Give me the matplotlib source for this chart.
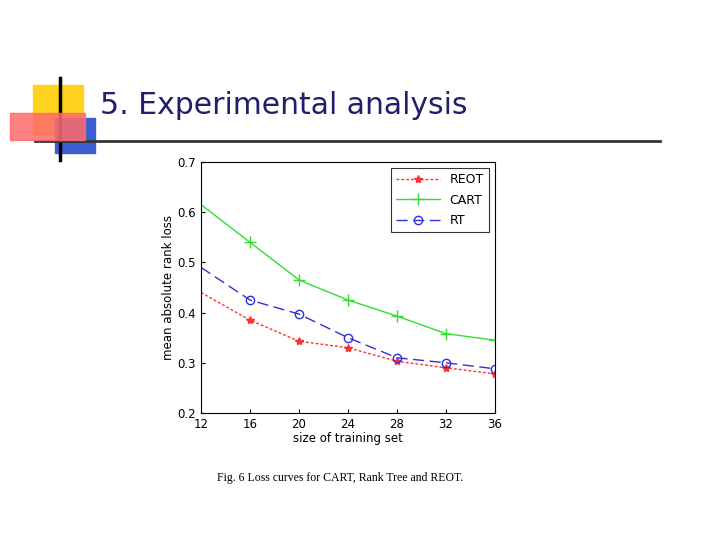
import matplotlib
matplotlib.use("Agg")
import matplotlib.pyplot as plt
from matplotlib.patches import Rectangle

x = [12, 16, 20, 24, 28, 32, 36]
reot = [0.44, 0.385, 0.343, 0.33, 0.303, 0.29, 0.278]
cart = [0.615, 0.54, 0.465, 0.425, 0.393, 0.358, 0.345]
rt = [0.49, 0.425, 0.397, 0.35, 0.31, 0.30, 0.288]

fig = plt.figure(figsize=(7.2, 5.4), dpi=100)
W, H = 720, 540
def R(x0, y0, w, h, **kw):
    fig.patches.append(Rectangle((x0 / W, 1 - (y0 + h) / H), w / W, h / H,
                                 transform=fig.transFigure, **kw))
R(33, 85, 50, 50, color="#ffd21f", zorder=1)
R(10, 113, 75, 27, color="#ff6b6b", alpha=0.85, zorder=2)
R(55, 118, 40, 35, color="#3a5fd0", zorder=1)
fig.add_artist(plt.Line2D([60 / W, 60 / W], [1 - 78 / H, 1 - 160 / H], color="black", lw=2.5))
fig.add_artist(plt.Line2D([35 / W, 660 / W], [1 - 141 / H, 1 - 141 / H], color="#333333", lw=2))
fig.text(100 / W, 1 - 105 / H, "5. Experimental analysis", fontsize=21.5, color="#1f1f6e",
         va="center", ha="left")
fig.text(340 / W, 1 - 478 / H, "Fig. 6 Loss curves for CART, Rank Tree and REOT.",
         fontsize=8.5, family="Liberation Serif", ha="center", va="center")

ax = fig.add_axes([201 / W, 1 - 413 / H, 294 / W, 251 / H])
me = list(range(1, 7))
ax.plot(x, reot, color="#ff3030", ls=(0, (2, 1.5)), lw=1, marker="*", ms=6, markevery=me, label="REOT")
ax.plot(x, cart, color="#33dd33", ls="-", lw=1, marker="+", ms=8, markevery=me, label="CART")
ax.plot(x, rt, color="#3030dd", ls=(0, (8, 4)), lw=1, marker="o", ms=6, mfc="none", markevery=me, label="RT")
ax.set_xlim(12, 36)
ax.set_ylim(0.2, 0.7)
ax.set_xticks(x)
ax.set_yticks([0.2, 0.3, 0.4, 0.5, 0.6, 0.7])
ax.tick_params(labelsize=8.5, direction="in", length=3)
ax.set_xlabel("size of training set", fontsize=8.5, labelpad=1)
ax.set_ylabel("mean absolute rank loss", fontsize=8.5, labelpad=2)
leg = ax.legend(loc="upper right", fontsize=9, fancybox=False, edgecolor="black",
                handlelength=3.5, borderaxespad=0.5, labelspacing=0.6)
leg.get_frame().set_linewidth(0.8)
fig.savefig("out.png", dpi=100)
